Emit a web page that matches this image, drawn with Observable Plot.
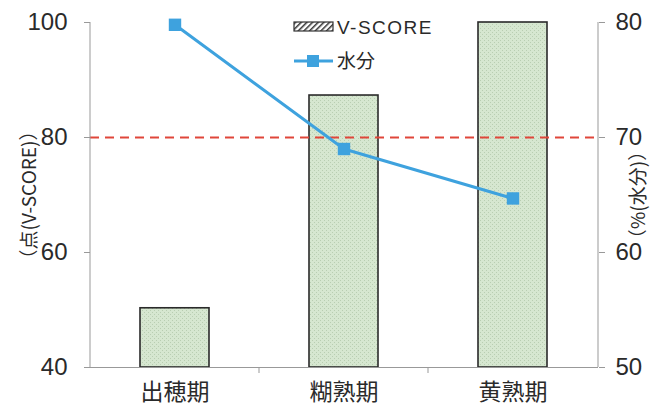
<!DOCTYPE html>
<html><head><meta charset="utf-8">
<script src="https://cdn.jsdelivr.net/npm/d3@7"></script>
<script src="https://cdn.jsdelivr.net/npm/@observablehq/plot@0.6"></script>
<style>
body{margin:0;background:#fff;}
#chart{position:relative;width:652px;height:410px;}
</style>
</head><body><div id="chart"></div>
<script>
const categories = ["出穂期", "糊熟期", "黄熟期"];
const vscore = [50.3, 87.3, 100];
const water = [79.8, 69.0, 64.7];
const leftTicks = [40, 60, 80, 100];
const rightTicks = [50, 60, 70, 80];
const threshold = 80; // V-SCORE 80 (= water 70%)

// map water (%) onto V-SCORE scale: 50→40, 80→100
const w2v = w => 40 + (w - 50) * 2;
const v2w = v => (v - 40) / 2 + 50;

const bars = categories.map((c, i) => ({cat: c, v: vscore[i]}));
const pts = categories.map((c, i) => ({cat: c, w: water[i], y: w2v(water[i])}));

const numFont = "'Liberation Sans', Arial, sans-serif";
const cjkFont = "'Noto Sans CJK JP', 'Noto Sans', sans-serif";
const blue = "#3ea2de";

const plot = Plot.plot({
  width: 652, height: 410,
  marginLeft: 90, marginRight: 54, marginTop: 22, marginBottom: 43,
  style: {fontFamily: numFont, fontSize: "24px", color: "#222", background: "#fff"},
  x: {domain: categories, paddingInner: 0.59, paddingOuter: 0.295},
  y: {domain: [40, 100]},
  marks: [
    Plot.barY(bars, {x: "cat", y1: 40, y2: "v", fill: "url(#dots)", stroke: "#2a2a2a", strokeWidth: 1.6}),
    Plot.ruleY([threshold], {stroke: "#e0463a", strokeWidth: 2.2, strokeDasharray: "9,6"}),
    Plot.axisY({anchor: "left", ticks: leftTicks, tickSize: 6, tickPadding: 17, stroke: "#999",
      fontSize: 24, fill: "#2a2a2a", label: null}),
    Plot.axisY({anchor: "left", ticks: [], label: "（点(V-SCORE)）", labelAnchor: "center", labelArrow: "none",
      labelOffset: 68, fontSize: 19, fontFamily: cjkFont, fill: "#2a2a2a"}),
    Plot.axisY({anchor: "right", ticks: rightTicks.map(w2v), tickFormat: v2w, tickSize: 6, tickPadding: 11, stroke: "#999",
      fontSize: 24, fill: "#2a2a2a", label: null}),
    Plot.axisY({anchor: "right", ticks: [], label: "（%(水分)）", labelAnchor: "center", labelArrow: "none",
      labelOffset: 46, fontSize: 19, fontFamily: cjkFont, fill: "#2a2a2a"}),
    Plot.axisX({tickSize: 0, tickPadding: 16, label: null, fontSize: 23, fontFamily: cjkFont, fill: "#2a2a2a"}),
    Plot.ruleY([40], {stroke: "#999", strokeWidth: 1}),
    Plot.line(pts, {x: "cat", y: "y", stroke: blue, strokeWidth: 3}),
    Plot.dot(pts, {x: "cat", y: "y", symbol: "square", r: 7, fill: blue, stroke: "none"})
  ]
});

const svg = d3.select(plot);
const defs = svg.insert("defs", ":first-child");
const p = defs.append("pattern").attr("id", "dots").attr("patternUnits", "userSpaceOnUse")
  .attr("width", 4).attr("height", 4);
p.append("rect").attr("width", 4).attr("height", 4).attr("fill", "#d6e7d0");
p.append("rect").attr("x", 0).attr("y", 0).attr("width", 1).attr("height", 1).attr("fill", "#b9ceb2");
p.append("rect").attr("x", 2).attr("y", 2).attr("width", 1).attr("height", 1).attr("fill", "#b9ceb2");
const h = defs.append("pattern").attr("id", "hatch").attr("patternUnits", "userSpaceOnUse")
  .attr("width", 4).attr("height", 4).attr("patternTransform", "rotate(45)");
h.append("rect").attr("width", 4).attr("height", 4).attr("fill", "#fff");
h.append("rect").attr("width", 1.5).attr("height", 4).attr("fill", "#333");

// vertical axis lines
const xs = plot.scale("x"), ys = plot.scale("y");
const x0 = xs.range[0], x1 = xs.range[1];
const yTop = ys.apply(100), yBot = ys.apply(40);
svg.append("line").attr("x1", x0).attr("x2", x0).attr("y1", yTop).attr("y2", yBot).attr("stroke", "#999");
svg.append("line").attr("x1", x1).attr("x2", x1).attr("y1", yTop).attr("y2", yBot).attr("stroke", "#999");
// category boundary ticks
const gap = xs.step - xs.bandwidth;
categories.slice(1).forEach(c => {
  const bx = xs.apply(c) - gap / 2;
  svg.append("line").attr("x1", bx).attr("x2", bx).attr("y1", yBot).attr("y2", yBot + 6).attr("stroke", "#999");
});

// legend
const lg = svg.append("g").attr("font-family", numFont).attr("font-size", 19).attr("fill", "#2a2a2a")
  .attr("text-anchor", "start");
lg.append("rect").attr("x", 294).attr("y", 22).attr("width", 39).attr("height", 9)
  .attr("fill", "url(#hatch)").attr("stroke", "#333").attr("stroke-width", 1.2);
lg.append("text").attr("x", 337).attr("y", 27).attr("dy", "0.35em").attr("letter-spacing", 1.5).text("V-SCORE");
lg.append("line").attr("x1", 294).attr("x2", 333).attr("y1", 61).attr("y2", 61).attr("stroke", blue).attr("stroke-width", 3);
lg.append("rect").attr("x", 307).attr("y", 55).attr("width", 12).attr("height", 12).attr("fill", blue);
lg.append("text").attr("x", 337).attr("y", 61).attr("dy", "0.35em").attr("font-family", cjkFont).text("水分");

document.getElementById("chart").appendChild(plot);
</script></body></html>
